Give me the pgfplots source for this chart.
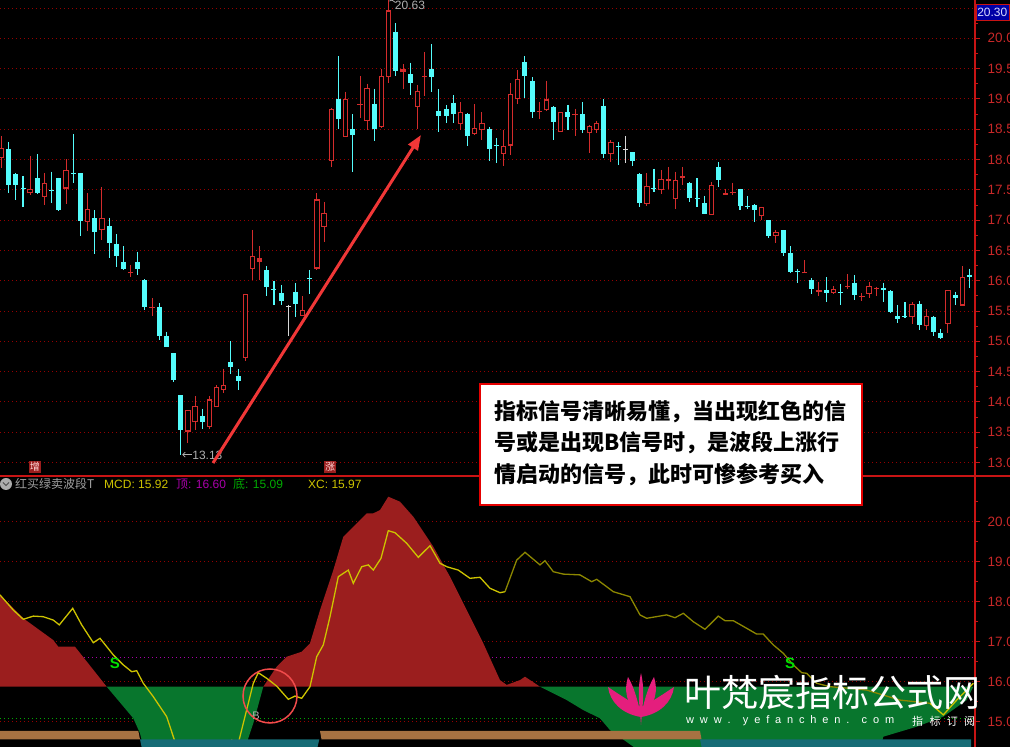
\documentclass[border=0pt]{standalone}
\usepackage{pgfplots}
\pgfplotsset{compat=1.18}
\usepackage{pgfplotstable}
\usepackage{fontspec}
\setmainfont{Liberation Sans}
\newfontfamily\cjk{Noto Sans CJK SC}
\usetikzlibrary{arrows.meta}

\definecolor{upred}{RGB}{212,44,44}
\definecolor{downcyan}{RGB}{84,252,252}
\definecolor{dojiwhite}{RGB}{215,215,215}
\definecolor{gridred}{RGB}{150,0,0}
\definecolor{axisred}{RGB}{200,20,20}
\definecolor{ticklab}{RGB}{200,40,40}
\definecolor{wavered}{RGB}{155,30,30}
\definecolor{wavegreen}{RGB}{8,118,45}
\definecolor{lineyel}{RGB}{205,195,0}
\definecolor{lineolive}{RGB}{140,135,0}
\definecolor{bandbrown}{RGB}{166,114,66}
\definecolor{bandteal}{RGB}{22,108,118}
\definecolor{topmag}{RGB}{170,0,170}
\definecolor{botgreen}{RGB}{0,170,0}
\definecolor{signalgreen}{RGB}{0,225,0}
\definecolor{lotus}{RGB}{228,30,125}
\definecolor{arrowred}{RGB}{240,55,55}
\definecolor{notegray}{RGB}{175,175,175}

% daily candles: bar index, open, high, low, close
\pgfplotstableread{
i o h l c
0 18.02 18.39 17.86 18.19
4 17.44 18.06 17.41 17.51
6 17.38 17.78 17.25 17.61
9 17.52 18.00 17.27 17.83
12 16.97 17.44 16.82 17.19
14 16.84 17.55 16.67 17.03
18 16.12 16.26 16.06 16.14
21 15.55 15.71 15.41 15.57
26 13.51 13.87 13.32 13.87
27 13.66 14.09 13.54 13.93
29 13.59 14.09 13.56 14.04
30 13.92 14.28 13.92 14.25
31 14.20 14.55 14.14 14.28
34 14.73 15.78 14.68 15.78
35 16.19 16.84 16.01 16.41
36 16.31 16.57 16.01 16.37
42 15.42 15.74 15.41 15.51
44 16.20 17.44 16.18 17.34
45 16.89 17.30 16.64 17.12
46 17.98 18.85 17.88 18.83
48 18.37 19.12 18.37 19.00
50 18.90 19.38 18.68 18.92
51 18.64 19.25 18.49 19.18
53 18.54 19.49 18.52 19.38
54 19.36 20.63 19.27 20.46
56 19.45 19.57 19.17 19.49
58 18.87 19.23 18.50 19.13
59 19.36 19.77 19.05 19.38
64 18.59 18.95 18.49 18.78
66 18.42 18.91 18.41 18.52
67 18.49 18.78 18.32 18.60
70 18.09 18.49 17.89 18.23
71 18.23 19.26 18.07 19.08
72 18.99 19.48 18.91 19.33
75 18.78 18.95 18.66 18.80
76 18.81 19.30 18.80 18.99
78 18.45 18.78 18.45 18.78
80 18.73 18.84 18.38 18.75
82 18.43 18.57 18.11 18.55
83 18.49 18.64 18.43 18.60
85 18.09 18.32 17.96 18.29
90 17.27 17.77 17.23 17.57
92 17.50 17.82 17.43 17.68
93 17.65 17.88 17.52 17.67
94 17.34 17.80 17.19 17.66
95 17.70 17.88 17.58 17.72
99 17.08 17.63 17.08 17.58
101 17.42 17.52 17.41 17.44
102 17.44 17.62 17.41 17.46
106 17.06 17.22 17.00 17.22
108 16.74 16.84 16.62 16.81
112 16.12 16.34 16.12 16.14
114 15.82 15.98 15.75 15.84
116 15.80 15.91 15.78 15.86
118 15.90 16.11 15.86 15.92
120 15.73 15.79 15.67 15.75
121 15.78 15.98 15.71 15.92
122 15.86 15.90 15.75 15.88
127 15.40 15.64 15.29 15.62
129 15.25 15.53 15.18 15.42
132 15.29 15.84 15.13 15.84
134 15.59 16.24 15.59 16.06
}\upcandles

\pgfplotstableread{
i o h l c
1 18.17 18.29 17.44 17.58
2 17.76 17.78 17.33 17.58
3 17.53 17.72 17.22 17.51
5 17.69 18.09 17.43 17.45
7 17.50 17.80 17.29 17.48
8 17.69 17.70 17.15 17.16
10 17.78 18.42 17.62 17.76
11 17.77 17.78 16.74 16.99
13 17.03 17.16 16.44 16.81
15 16.90 17.04 16.37 16.62
16 16.61 16.77 16.23 16.40
17 16.31 16.57 16.18 16.19
19 16.31 16.48 16.09 16.20
20 16.01 16.02 15.52 15.56
22 15.56 15.63 15.02 15.09
23 15.09 15.16 14.90 14.91
24 14.80 14.81 14.33 14.36
25 14.11 14.11 13.13 13.54
28 13.76 13.89 13.56 13.66
32 14.65 15.00 14.46 14.57
33 14.42 14.54 14.20 14.35
37 16.17 16.24 15.74 15.89
38 15.87 16.00 15.60 15.85
39 15.79 15.93 15.60 15.66
41 15.82 15.96 15.40 15.62
43 16.04 16.18 15.78 16.02
47 19.00 19.70 18.51 18.67
49 18.50 18.75 17.79 18.40
52 18.92 19.17 18.31 18.51
55 20.11 20.25 19.38 19.46
57 19.41 19.60 19.06 19.26
60 19.50 19.90 19.12 19.36
61 18.80 19.16 18.46 18.72
62 18.83 18.90 18.61 18.71
63 18.94 19.06 18.61 18.75
65 18.75 18.76 18.22 18.38
68 18.50 18.54 17.98 18.17
69 18.24 18.35 17.94 18.22
73 19.61 19.70 19.01 19.38
74 19.30 19.36 18.68 18.79
77 18.86 18.88 18.32 18.62
79 18.78 18.90 18.49 18.70
81 18.75 18.95 18.44 18.49
84 18.89 19.00 18.02 18.09
86 18.22 18.29 17.91 18.20
88 18.12 18.12 17.90 17.98
89 17.76 17.77 17.22 17.29
91 17.53 17.85 17.47 17.51
96 17.62 17.63 17.30 17.36
97 17.36 17.69 17.22 17.34
98 17.28 17.40 17.10 17.10
100 17.88 17.96 17.55 17.66
103 17.51 17.52 17.16 17.24
104 17.23 17.40 17.19 17.21
105 17.25 17.26 16.97 17.16
107 17.00 17.00 16.70 16.74
109 16.83 16.84 16.41 16.45
110 16.45 16.57 16.12 16.15
111 16.16 16.20 15.97 16.14
113 16.01 16.04 15.78 15.86
115 15.85 16.06 15.65 15.79
117 15.81 15.95 15.60 15.79
119 15.97 16.09 15.68 15.76
123 15.88 15.97 15.65 15.85
124 15.83 15.84 15.47 15.49
125 15.42 15.60 15.30 15.36
126 15.42 15.64 15.38 15.40
128 15.62 15.67 15.18 15.27
130 15.40 15.42 15.09 15.16
131 15.14 15.20 15.04 15.05
133 15.76 15.82 15.60 15.72
135 16.10 16.20 15.88 16.06
}\downcandles

\pgfplotstableread{
i o h l c
40 15.59 15.60 15.09 15.57
87 18.18 18.38 17.94 18.16
}\flatcandles

\pgfplotsset{
  panel/.style={
    scale only axis, width=975pt,
    axis x line=none, axis y line*=right,
    y axis line style={-, axisred, line width=1.2pt},
    tick align=outside, major tick length=5pt, minor tick length=3pt,
    tick style={axisred, line width=0.8pt},
    ymajorgrids,
    major grid style={gridred, line width=0.9pt, dash pattern=on 1pt off 3pt},
    yticklabel style={ticklab, font=\fontsize{13.5}{13.5}\selectfont, anchor=west, xshift=4pt},
    yticklabel={\pgfmathprintnumber[fixed,fixed zerofill,precision=2,assume math mode=true]{\tick}},
  },
}

\begin{document}
\begin{tikzpicture}[x=1pt,y=1pt]
\useasboundingbox (0,0) rectangle (1010,747);
\clip (0,0) rectangle (1010,747);
\fill[black] (0,0) rectangle (1010,747);

% ---------------- price panel ----------------
\begin{axis}[panel,
  at={(0pt,271pt)}, anchor=south west, height=476pt,
  xmin=-0.209, xmax=135.77, ymin=12.777, ymax=20.632,
  ytick={13,13.5,...,20},
  minor ytick={13.25,13.75,...,20.25},
  extra y ticks={20.5}, extra y tick labels={},
  extra y tick style={ymajorgrids, major grid style={gridred, line width=0.9pt, dash pattern=on 1pt off 3pt}},
]
% wicks
\addplot[quiver={u=0, v=\thisrow{l}-\thisrow{h}}, upred, line width=1pt] table[x=i, y=h] {\upcandles};
\addplot[quiver={u=0, v=\thisrow{l}-\thisrow{h}}, downcyan, line width=1.1pt] table[x=i, y=h] {\downcandles};
\addplot[quiver={u=0, v=\thisrow{l}-\thisrow{h}}, dojiwhite, line width=1pt] table[x=i, y=h] {\flatcandles};
% bodies
\addplot[quiver={u=0, v=\thisrow{c}-\thisrow{o}}, upred, line width=5.4pt] table[x=i, y=o] {\upcandles};
\addplot[quiver={u=0, v=\thisrow{c}-\thisrow{o}-0.036}, black, line width=3.4pt,
  restrict expr to domain={\thisrow{c}-\thisrow{o}}{0.06:20}] table[x=i, y expr=\thisrow{o}+0.018] {\upcandles};
\addplot[quiver={u=0, v=\thisrow{c}-\thisrow{o}}, downcyan, line width=5pt] table[x=i, y=o] {\downcandles};
\addplot[quiver={u=0, v=\thisrow{c}-\thisrow{o}}, dojiwhite, line width=5pt] table[x=i, y=o] {\flatcandles};
% extreme notes
\draw[notegray, line width=0.8pt, -{Straight Barb[length=2.5pt]}] (axis cs:26.5,13.13) -- (axis cs:25.2,13.13);
\node[anchor=west, text=notegray, font=\fontsize{12}{12}\selectfont, inner sep=1pt] at (axis cs:26.45,13.12) {13.13};
\draw[notegray, line width=0.8pt] (axis cs:54.1,20.615) -- (axis cs:54.45,20.63) -- (axis cs:54.95,20.59);
\node[anchor=west, text=notegray, font=\fontsize{12}{12}\selectfont, inner sep=1pt] at (axis cs:54.7,20.535) {20.63};
\end{axis}

% ---------------- indicator panel ----------------
\begin{axis}[panel,
  at={(0pt,0pt)}, anchor=south west, height=271pt,
  xmin=0, xmax=975, ymin=14.3675, ymax=21.1425,
  ytick={15,...,20},
  minor ytick={15.5,16.5,...,20.5},
]
% top / bottom reference lines
\addplot[topmag, line width=1pt, dash pattern=on 1pt off 3pt] coordinates {(0,16.60) (975,16.60)};
\addplot[botgreen, line width=1pt, dash pattern=on 1pt off 3pt] coordinates {(0,15.09) (975,15.09)};
% wave above the baseline (red) and below it (green)
\addplot[fill=wavered, draw=none] coordinates {(0,15.875) (0,18.17) (23.3,17.585) (53.3,17.04) (58.3,16.875) (75,16.875) (106.7,15.875)};
\addplot[fill=wavegreen, draw=none] coordinates {(106.7,15.875) (133.3,15.085) (140,14.71) (143.3,14.37) (146,14.1) (243,14.1) (248.3,14.585) (253.3,14.96) (263.3,15.875)};
\addplot[fill=wavered, draw=none] coordinates {(263.3,15.875) (276.7,16.375) (286.7,16.625) (301.7,16.75) (310,16.96) (320,17.79) (333.3,18.79) (343.3,19.625) (353.3,19.875) (366.7,20.21) (373.3,20.21) (380,20.29) (388.3,20.625) (400,20.50) (413.3,20.125) (433.3,19.375) (450,18.625) (466.7,17.79) (483.3,16.96) (500,16.04) (506.7,15.92) (520,16.04) (525,16.125) (540,15.875)};
\addplot[fill=wavegreen, draw=none] coordinates {(540,15.875) (566.7,15.54) (583.3,15.29) (600,15.085) (610,14.79) (633.3,14.375) (638,14.1) (878,14.1) (883.3,14.625) (916.7,14.875) (943.3,15.125) (966.7,15.54) (973.3,15.875)};
% XC line
\addplot[lineyel, line width=1.3pt] coordinates {(0,18.17) (13.3,17.79) (23.3,17.56) (33.3,17.64) (43.3,17.625) (53.3,17.54) (59.3,17.42) (72.7,17.835) (81.7,17.42) (93.3,16.975) (100,17.085) (113.3,16.67) (123.3,16.42) (131.7,16.25) (136.7,16.275) (143.3,15.96) (153.3,15.625) (166.7,15.125) (176.7,14.37) (180,14.1) (224,14.1) (226.7,14.37) (231.7,14.54) (238.3,14.46) (248.3,15.46) (253.3,15.96) (258.3,16.225) (266.7,16.085) (276.7,15.89) (288.3,15.56) (295,15.64) (301.7,15.585) (310,15.875) (316.7,16.625) (323.3,16.92) (330,17.625) (338.3,18.625) (348.3,18.79) (353.3,18.46) (361.7,18.875) (368.3,18.92) (373.3,18.79) (381,19.085) (388.3,19.775) (395,19.725) (406.7,19.46) (418.3,19.11) (430,19.40) (440,18.96) (446.7,18.875) (458.3,18.79) (470,18.585) (480,18.61) (490,18.335) (500,18.225) (505,18.25)};
\addplot[lineolive, line width=1.3pt] coordinates {(505,18.25) (516.7,19.04) (525,19.235) (540,18.92) (545,19.025) (553.3,18.75) (563.3,18.69) (580,18.67) (591.7,18.50) (596.7,18.56) (613.3,18.25) (630,18.125) (640,17.67) (646.7,17.585) (666.7,17.67) (675,17.60) (683.3,17.71) (693.3,17.50) (705,17.31) (718.3,17.64) (725,17.525) (733.3,17.525) (746.7,17.335) (756.7,17.19) (763.3,17.19) (773.3,16.92) (783.3,16.71) (793.3,16.42) (801.7,16.225) (806.7,16.21) (816.7,15.96) (830,15.875) (850,15.835) (866.7,15.79) (900,15.54) (930,15.46)};
\addplot[lineyel, line width=1.3pt] coordinates {(930,15.46) (943.3,15.17) (956.7,15.54) (973.3,15.96)};
% trend bands
\addplot[fill=bandbrown, draw=none] coordinates {(0,14.7675) (138.3,14.7675) (140,14.56) (0,14.56)};
\addplot[fill=bandbrown, draw=none] coordinates {(320,14.7675) (700,14.7675) (701.5,14.56) (321.5,14.56)};
\addplot[fill=bandteal, draw=none] coordinates {(140,14.56) (319.3,14.56) (316,14.2) (143,14.2)};
\addplot[fill=bandteal, draw=none] coordinates {(700,14.56) (971,14.56) (971,14.2) (703,14.2)};
% signals
\node[text=signalgreen, font=\bfseries\fontsize{15}{15}\selectfont] at (axis cs:115,16.47) {S};
\node[text=signalgreen, font=\bfseries\fontsize{15}{15}\selectfont] at (axis cs:790,16.47) {S};
\node[text=gray!60, font=\fontsize{11}{11}\selectfont] at (axis cs:256,15.14) {B};
\end{axis}

% panel frame lines
\draw[axisred, line width=1.2pt] (0,271) -- (1010,271);
\draw[axisred, line width=1.2pt] (975,0) -- (975,747);
% last price tag
\node[fill=blue!65!black, draw=axisred, line width=0.6pt, text=white!85!blue, font=\fontsize{12}{12}\selectfont,
  inner sep=1.5pt, anchor=west, minimum height=16pt] at (975.5,735) {20.30};

% bar markers
\node[fill=wavered, text=white!85!red, font=\cjk\fontsize{10}{10}\selectfont, inner sep=1pt] at (35,280) {增};
\node[fill=wavered, text=white!85!red, font=\cjk\fontsize{10}{10}\selectfont, inner sep=1pt] at (330,280) {涨};

% indicator caption
\fill[gray!65] (6,263) circle (6);
\draw[black!70, line width=1pt] (3,264.5) -- (6,261.5) -- (9,264.5);
\node[anchor=west, text=gray!75, font=\cjk\fontsize{12}{12}\selectfont, inner sep=0pt] at (15,263) {红买绿卖波段T};
\node[anchor=west, text=lineyel, font=\fontsize{12}{12}\selectfont, inner sep=0pt] at (104,263) {MCD: 15.92};
\node[anchor=west, text=topmag, font=\fontsize{12}{12}\selectfont, inner sep=0pt] at (176,263) {{\cjk 顶}: 16.60};
\node[anchor=west, text=botgreen, font=\fontsize{12}{12}\selectfont, inner sep=0pt] at (233,263) {{\cjk 底}: 15.09};
\node[anchor=west, text=lineyel, font=\fontsize{12}{12}\selectfont, inner sep=0pt] at (308,263) {XC: 15.97};

% trend arrow and B circle
\draw[arrowred, line width=3pt, -{Triangle[length=15pt, width=11pt]}] (213,284) -- (421,612);
\draw[arrowred!90!white, line width=1.5pt] (270,51) circle (27);

% note box
\draw[fill=white, draw=red!90!black, line width=2.5pt] (480,363) rectangle (862,242);
\begin{scope}[every node/.style={anchor=west, inner sep=0pt, font=\cjk\bfseries\fontsize{22}{22}\selectfont}]
\node at (494,335) {指标信号清晰易懂，当出现红色的信};
\node at (494,304) {号或是出现B信号时，是波段上涨行};
\node at (494,272) {情启动的信号，此时可惨参考买入};
\end{scope}

% site mark
\begin{scope}[lotus]
\fill (641,30) .. controls (622,33) and (610,45) .. (608,60) .. controls (620,52) and (632,44) .. (641,40) -- cycle;
\fill (641,30) .. controls (660,33) and (672,45) .. (674,60) .. controls (662,52) and (650,44) .. (641,40) -- cycle;
\fill (638,34) .. controls (626,42) and (624,58) .. (628,70) .. controls (634,60) and (637,48) .. (639,40) -- cycle;
\fill (644,34) .. controls (656,42) and (658,58) .. (654,70) .. controls (648,60) and (645,48) .. (643,40) -- cycle;
\fill (641,22) -- (642.5,40) .. controls (644,55) and (643,65) .. (641,74) .. controls (639,65) and (638,55) .. (639.5,40) -- cycle;
\end{scope}
\node[anchor=west, text=white, font=\cjk\fontsize{37}{37}\selectfont, inner sep=0pt] at (684,55) {叶梵宸指标公式网};
\node[anchor=west, text=white, font=\fontsize{11}{11}\selectfont, inner sep=0pt] at (686,26) {\makebox[208pt][s]{w w w . y e f a n c h e n . c o m}};
\node[anchor=west, text=white, font=\cjk\fontsize{11}{11}\selectfont, inner sep=0pt] at (912,26) {\makebox[63pt][s]{指 标 订 阅}};
\end{tikzpicture}
\end{document}
